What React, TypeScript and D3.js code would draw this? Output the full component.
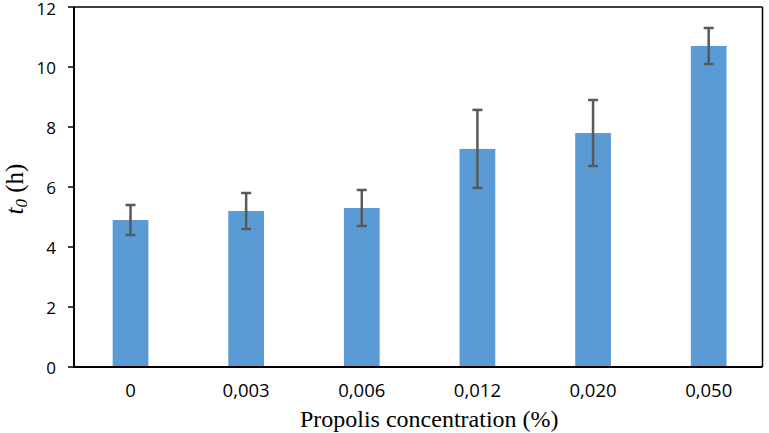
import React from "react";
import * as d3 from "d3";

const categories = ["0", "0,003", "0,006", "0,012", "0,020", "0,050"];
const values = [4.9, 5.2, 5.3, 7.27, 7.8, 10.7];
const errors = [0.5, 0.6, 0.6, 1.3, 1.1, 0.6];
const yTicks = [0, 2, 4, 6, 8, 10, 12];

const W = 769;
const H = 433;
const plot = { left: 74, right: 762.5, top: 7, bottom: 367 };

export default function App() {
  const x = d3
    .scaleBand<string>()
    .domain(categories)
    .range([72.7, 766.5])
    .paddingInner(0.691)
    .paddingOuter(0.3455);
  const y = d3.scaleLinear().domain([0, 12]).range([plot.bottom, plot.top]);
  const bw = x.bandwidth();
  const tickFont = "'Open Sans', sans-serif";

  return (
    <svg
      width={W}
      height={H}
      style={{ position: "absolute", left: 0, top: 0, background: "#fff" }}
    >
      <rect x={0} y={0} width={W} height={H} fill="#fff" />
      {categories.map((c, i) => (
        <rect
          key={c}
          x={x(c)}
          y={y(values[i])}
          width={bw}
          height={y(0) - y(values[i])}
          fill="#5B9BD5"
        />
      ))}
      {categories.map((c, i) => {
        const cx = (x(c) as number) + bw / 2;
        const y1 = y(values[i] + errors[i]);
        const y2 = y(values[i] - errors[i]);
        return (
          <g key={"e" + c} stroke="#595959" strokeWidth={2.5}>
            <line x1={cx} x2={cx} y1={y1} y2={y2} />
            <line x1={cx - 5} x2={cx + 5} y1={y1} y2={y1} />
            <line x1={cx - 5} x2={cx + 5} y1={y2} y2={y2} />
          </g>
        );
      })}
      {/* frame */}
      <line x1={plot.left} x2={plot.right} y1={plot.top} y2={plot.top} stroke="#000" strokeWidth={1.5} />
      <line x1={plot.right} x2={plot.right} y1={plot.top} y2={plot.bottom} stroke="#000" strokeWidth={1.5} />
      <line x1={plot.left} x2={plot.left} y1={plot.top} y2={plot.bottom + 1} stroke="#000" strokeWidth={2} />
      <line x1={plot.left - 1} x2={plot.right} y1={plot.bottom} y2={plot.bottom} stroke="#000" strokeWidth={2} />
      {yTicks.map((t) => (
        <g key={"t" + t}>
          <line x1={plot.left - 6} x2={plot.left} y1={y(t)} y2={y(t)} stroke="#000" strokeWidth={1.5} />
          <text
            x={56}
            y={y(t) + (t === 12 ? 2.5 : 1.5)}
            dy="0.35em"
            textAnchor="end"
            fontFamily={tickFont}
            fontSize={17}
            fill="#000"
          >
            {t}
          </text>
        </g>
      ))}
      {categories.map((c) => (
        <text
          key={"l" + c}
          x={(x(c) as number) + bw / 2}
          y={396.5}
          textAnchor="middle"
          fontFamily={tickFont}
          fontSize={18.5}
          fill="#000"
        >
          {c}
        </text>
      ))}
      <text
        x={(plot.left + plot.right) / 2 + 11}
        y={427}
        textAnchor="middle"
        fontFamily="'Liberation Serif', 'Times New Roman', serif"
        fontSize={24}
        fill="#000"
      >
        Propolis concentration (%)
      </text>
      <text
        transform={`translate(23, ${(plot.top + plot.bottom) / 2 + 2}) rotate(-90)`}
        textAnchor="middle"
        fontFamily="'Liberation Serif', 'Times New Roman', serif"
        fontSize={25}
        fill="#000"
      >
        <tspan fontStyle="italic">t</tspan>
        <tspan fontStyle="italic" fontSize={17} dy={4}>0</tspan>
        <tspan dy={-4}> (h)</tspan>
      </text>
    </svg>
  );
}
